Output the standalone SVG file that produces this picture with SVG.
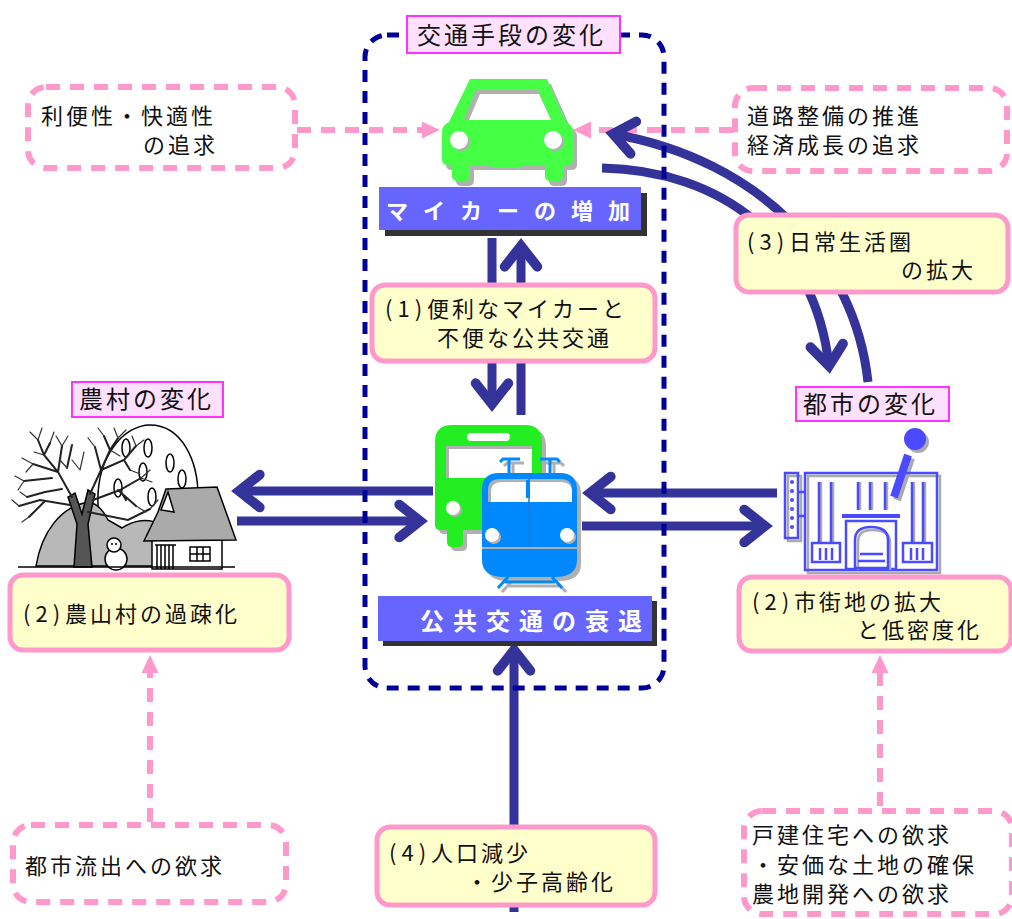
<svg xmlns="http://www.w3.org/2000/svg" width="1012" height="919" viewBox="0 0 1012 919">
  <style>
    text { font-family: "Noto Sans CJK JP", "Noto Sans", sans-serif; fill: #111; }
    .lbl { font-size: 22px; letter-spacing: 3px; }
    .ttl { font-size: 24px; letter-spacing: 3px; }
    .par { letter-spacing: 5px; }
    .bar { font-size: 22px; font-weight: bold; fill: #fff; }
    .note { fill: #ffffcc; stroke: #ff99cc; stroke-width: 5; }
    .want { fill: #fff; stroke: #ff99cc; stroke-width: 6; stroke-dasharray: 14 10; }
    .tag { fill: #ffe0ff; stroke: #ff33ff; stroke-width: 2; }
    .navy { fill: none; stroke: #333399; stroke-width: 9; marker-end: url(#ah); }
    .pink { fill: none; stroke: #ff99cc; stroke-width: 6; stroke-dasharray: 14 10; marker-end: url(#ph); }
    .ink { stroke: #000; stroke-width: 1.5; }
    .br { fill: none; stroke: #222; stroke-width: 2; stroke-linecap: round; }
    .tw { fill: none; stroke: #333; stroke-width: 1.2; stroke-linecap: round; }
    .bl { fill: none; stroke: #4a4aff; stroke-width: 2.5; }
    .sh { fill: none; stroke: #aaa; stroke-width: 2.5; }
  </style>
  <defs>
    <marker id="ah" markerUnits="userSpaceOnUse" markerWidth="48" markerHeight="48" viewBox="0 0 44 44" refX="30" refY="22" orient="auto" overflow="visible">
      <path d="M11,7 L30,22 L11,37" fill="none" stroke="#333399" stroke-width="9" stroke-linecap="round" stroke-linejoin="miter"/>
    </marker>
    <marker id="ph" markerUnits="userSpaceOnUse" markerWidth="20" markerHeight="20" viewBox="0 0 20 20" refX="8" refY="10" orient="auto" overflow="visible">
      <path d="M0,1.5 L18,10 L0,18.5 Z" fill="#ff99cc"/>
    </marker>
  </defs>

  <rect width="1012" height="919" fill="#fff"/>

  <!-- connectors -->
  <g id="connectors">
    <!-- wishes feeding the changes -->
    <path class="pink" d="M297,130 L430,130"/>
    <path class="pink" d="M733,130 L583,130"/>
    <path class="pink" d="M150,822 L150,665"/>
    <path class="pink" d="M880,806 L880,665"/>
    <!-- daily-life sphere loop between car and city -->
    <path class="navy" d="M868,382 C855,260 760,160 613,134"/>
    <path class="navy" d="M602,168 C720,170 815,240 829,366"/>
    <!-- car vs public transport -->
    <path class="navy" d="M492,238 L492,404"/>
    <path class="navy" d="M521,415 L521,246"/>
    <!-- population decline -->
    <path class="navy" d="M514,912 L514,650"/>
    <!-- village side -->
    <path class="navy" d="M433,491 L239,491"/>
    <path class="navy" d="M237,521 L420,521"/>
    <!-- city side -->
    <path class="navy" d="M777,493 L590,493"/>
    <path class="navy" d="M582,526 L765,526"/>
  </g>

  <!-- transport frame -->
  <g id="transport-frame">
    <rect x="365" y="35" width="299" height="653" rx="22" fill="none" stroke="#000099" stroke-width="5" stroke-dasharray="12 9"/>
    <rect class="tag" x="407" y="16" width="213" height="37"/>
    <text class="ttl" x="417" y="44">交通手段の変化</text>
  </g>

  <!-- car -->
  <g id="car">
    <g transform="translate(4,5)" fill="#b0b0b0">
      <path d="M470,79 L547,79 L566,122 Q573,125 573,132 L573,160 Q573,165 567,165 L563,165 L563,176 Q563,181 557,181 L551,181 Q545,181 545,176 L545,165 L470,165 L470,176 Q470,181 464,181 L458,181 Q452,181 452,176 L452,165 L448,165 Q442,165 442,160 L442,132 Q442,125 449,122 Z"/>
    </g>
    <path fill="#44ff44" d="M470,79 L547,79 L566,122 Q573,125 573,132 L573,160 Q573,165 567,165 L563,165 L563,176 Q563,181 557,181 L551,181 Q545,181 545,176 L545,165 L470,165 L470,176 Q470,181 464,181 L458,181 Q452,181 452,176 L452,165 L448,165 Q442,165 442,160 L442,132 Q442,125 449,122 Z"/>
    <rect x="492" y="160" width="30" height="8" fill="#44ff44"/>
    <polygon points="476,90 538,90 551,120 464,120" fill="#b0b0b0"/>
    <polygon points="480,94 539,94 551,120 469,120" fill="#fff"/>
    <circle cx="461" cy="142" r="9" fill="#b0b0b0"/>
    <circle cx="459" cy="140" r="9" fill="#fff"/>
    <circle cx="555" cy="142" r="9" fill="#b0b0b0"/>
    <circle cx="553" cy="140" r="9" fill="#fff"/>
  </g>

  <!-- car increase label -->
  <g id="car-increase">
    <rect x="385" y="193" width="262" height="43" fill="#333"/>
    <rect x="379" y="187" width="262" height="43" fill="#6666ff"/>
    <text class="bar" x="386" y="219" style="letter-spacing:15px">マイカーの増加</text>
  </g>

  <!-- (1) -->
  <g id="note-1">
    <rect class="note" x="372" y="285" width="283" height="76" rx="13"/>
    <text class="lbl" x="385" y="317"><tspan class="par">(1)</tspan>便利なマイカーと</text>
    <text class="lbl" x="437" y="346">不便な公共交通</text>
  </g>

  <!-- bus and train -->
  <g id="public-transport">
    <!-- bus -->
    <path transform="translate(4,4)" fill="#b0b0b0" d="M435,442 Q435,425 452,425 L525,425 Q542,425 542,442 L542,530 L463,530 L463,542 Q463,547 458,547 L452,547 Q447,547 447,542 L447,530 L440,530 Q435,530 435,525 Z"/>
    <path fill="#22ee22" d="M435,442 Q435,425 452,425 L525,425 Q542,425 542,442 L542,530 L463,530 L463,542 Q463,547 458,547 L452,547 Q447,547 447,542 L447,530 L440,530 Q435,530 435,525 Z"/>
    <rect x="467" y="433" width="43" height="8" rx="4" fill="#fff"/>
    <rect x="446" y="446" width="86" height="32" fill="#b0b0b0"/>
    <rect x="449" y="449" width="83" height="29" fill="#fff"/>
    <circle cx="455" cy="510" r="7" fill="#b0b0b0"/>
    <circle cx="453" cy="508" r="7" fill="#fff"/>
    <!-- train -->
    <g transform="translate(4,4)" fill="none" stroke="#b0b0b0" stroke-width="3">
      <path d="M500,462 L503,459 L520,459 M509,459 L509,473 M560,462 L557,459 L540,459 M550,459 L550,473"/>
      <path d="M508,577 L498,588 M552,577 L562,588 M505,582 L555,582"/>
    </g>
    <path transform="translate(4,4)" fill="#b0b0b0" d="M482,490 Q482,473 499,473 L560,473 Q577,473 577,490 L577,560 Q577,577 555,577 L504,577 Q482,577 482,560 Z"/>
    <path fill="#0088ff" d="M482,490 Q482,473 499,473 L560,473 Q577,473 577,490 L577,547 L482,547 Z"/>
    <path fill="#0088ff" d="M482,549 L577,549 L577,560 Q577,577 555,577 L504,577 Q482,577 482,560 Z"/>
    <line x1="482" y1="548" x2="577" y2="548" stroke="#b0b0b0" stroke-width="2"/>
    <path fill="#b0b0b0" d="M488,502 L488,490 Q488,479 500,479 L560,479 Q572,479 572,490 L572,502 Z"/>
    <path fill="#fff" d="M491,502 L491,492 Q491,482 502,482 L560,482 Q572,482 572,492 L572,502 Z"/>
    <line x1="529" y1="473" x2="529" y2="547" stroke="#1a7ae0" stroke-width="1.5"/>
    <rect x="526" y="480" width="4" height="18" fill="#0088ff"/>
    <circle cx="494" cy="537" r="7" fill="#b0b0b0"/>
    <circle cx="492" cy="535" r="7" fill="#fff"/>
    <circle cx="569" cy="537" r="7" fill="#b0b0b0"/>
    <circle cx="567" cy="535" r="7" fill="#fff"/>
    <g fill="none" stroke="#0088ff" stroke-width="3">
      <path d="M500,462 L503,459 L520,459 M509,459 L509,473 M560,462 L557,459 L540,459 M550,459 L550,473"/>
      <path d="M508,577 L498,588 M552,577 L562,588 M505,582 L555,582"/>
    </g>
  </g>

  <!-- public transport decline label -->
  <g id="transit-decline">
    <rect x="383" y="601" width="274" height="45" fill="#333"/>
    <rect x="378" y="596" width="274" height="45" fill="#6666ff"/>
    <text class="bar" x="420" y="630" style="font-size:24px;letter-spacing:9px">公共交通の衰退</text>
  </g>

  <!-- (4) -->
  <g id="note-4">
    <rect class="note" x="377" y="827" width="278" height="78" rx="13"/>
    <text class="lbl" x="389" y="861"><tspan class="par">(4)</tspan>人口減少</text>
    <text class="lbl" x="466" y="890">・少子高齢化</text>
  </g>

  <!-- convenience wish -->
  <g id="wish-convenience">
    <rect class="want" x="28" y="87" width="267" height="81" rx="18"/>
    <text class="lbl" x="41" y="124">利便性・快適性</text>
    <text class="lbl" x="143" y="153">の追求</text>
  </g>

  <!-- road and growth wish -->
  <g id="wish-growth">
    <rect class="want" x="735" y="88" width="272" height="83" rx="18"/>
    <text class="lbl" x="747" y="124">道路整備の推進</text>
    <text class="lbl" x="747" y="153">経済成長の追求</text>
  </g>

  <!-- (3) -->
  <g id="note-3">
    <rect class="note" x="736" y="215" width="272" height="77" rx="13"/>
    <text class="lbl" x="747" y="250"><tspan class="par">(3)</tspan>日常生活圏</text>
    <text class="lbl" x="901" y="278">の拡大</text>
  </g>

  <!-- rural change -->
  <g id="rural">
    <rect class="tag" x="72" y="382" width="151" height="35"/>
    <text class="ttl" x="79" y="408">農村の変化</text>
    <!-- snowy hill -->
    <path class="ink" fill="#fff" d="M98,560 L98,505 C96,455 125,425 150,425 C180,425 200,458 198,505 L198,560 Z"/>
    <g class="ink" fill="#fff">
      <ellipse cx="126" cy="448" rx="4" ry="9"/>
      <ellipse cx="148" cy="448" rx="4" ry="9"/>
      <ellipse cx="170" cy="463" rx="4" ry="9"/>
      <ellipse cx="143" cy="472" rx="4" ry="9"/>
      <ellipse cx="118" cy="488" rx="4" ry="9"/>
      <ellipse cx="182" cy="479" rx="4" ry="9"/>
      <ellipse cx="152" cy="497" rx="4" ry="9"/>
    </g>
    <!-- grey slope -->
    <path class="ink" fill="#b8b8b8" d="M36,566 C42,530 62,508 84,503 C96,500 103,510 108,520 L122,528 C134,520 148,518 160,524 L178,518 L178,566 Z"/>
    <!-- bare tree -->
    <path class="ink" fill="#555" d="M74,567 L77,524 L68,497 L75,493 L82,514 L88,490 L95,494 L88,524 L92,567 Z"/>
    <path class="br" d="M72,497 L58,472 L44,455 L38,440 M58,472 L33,464 M52,478 L24,481 M70,505 L40,500 L19,506 M45,501 L29,517 M62,489 L45,492 L27,497 M58,472 L62,446 M44,455 L50,443"/>
    <path class="br" d="M90,494 L101,470 L110,450 L118,438 M101,470 L124,460 L136,446 M93,500 L120,490 L141,478 M118,490 L136,506 M101,470 L95,447 M88,512 L128,520 L150,509 M110,450 L104,436 M124,460 L130,470 M72,445 L67,468 M120,490 L126,500"/>
    <path class="tw" d="M38,440 L30,432 M38,440 L42,428 M33,464 L22,458 M33,464 L26,472 M24,481 L15,476 M24,481 L18,490 M19,506 L12,500 M29,517 L22,522 M27,497 L20,492 M62,446 L56,436 M62,446 L68,436 M50,443 L54,432 M118,438 L114,428 M118,438 L126,430 M136,446 L132,436 M136,446 L144,440 M141,478 L150,470 M141,478 L152,482 M136,506 L146,512 M150,509 L158,500 M104,436 L98,428 M95,447 L88,438 M67,468 L60,460 M130,470 L140,474 M110,450 L120,456 M44,455 L34,452 M80,470 L84,452 M80,470 L72,460"/>
    <!-- snowman -->
    <circle class="ink" cx="116" cy="559" r="11" fill="#fff"/>
    <circle class="ink" cx="114" cy="545" r="7" fill="#fff"/>
    <circle cx="112" cy="544" r="1" fill="#000"/>
    <circle cx="116" cy="544" r="1" fill="#000"/>
    <!-- house -->
    <rect class="ink" x="152" y="538" width="70" height="31" fill="#fff"/>
    <path class="ink" fill="none" d="M157,545 L157,569 M161,545 L161,569 M165,545 L165,569 M169,545 L169,569 M173,545 L173,569 M155,545 L176,545"/>
    <rect class="ink" x="190" y="547" width="20" height="14" fill="#fff"/>
    <path class="ink" fill="none" d="M197,547 L197,561 M203,547 L203,561 M190,554 L210,554"/>
    <path class="ink" fill="#aaa" d="M166,489 L217,487 L226,512 L236,540 L144,541 L158,512 Z"/>
    <polygon class="ink" fill="#fff" points="161,510 168,492 174,512"/>
    <line class="ink" x1="18" y1="567" x2="235" y2="567"/>
  </g>

  <!-- (2) rural -->
  <g id="note-2-rural">
    <rect class="note" x="10" y="575" width="279" height="75" rx="13"/>
    <text class="lbl" x="23" y="622"><tspan class="par">(2)</tspan>農山村の過疎化</text>
  </g>

  <!-- rural wish -->
  <g id="wish-urban-outflow">
    <rect class="want" x="13" y="825" width="273" height="77" rx="18"/>
    <text class="lbl" x="25" y="874">都市流出への欲求</text>
  </g>

  <!-- city change -->
  <g id="city">
    <rect class="tag" x="796" y="387" width="153" height="34"/>
    <text class="ttl" x="803" y="413">都市の変化</text>
    <!-- shadow -->
    <g transform="translate(3,3)">
      <circle cx="915" cy="439" r="11" fill="#aaa"/>
      <line x1="908" y1="455" x2="894" y2="497" stroke="#aaa" stroke-width="8"/>
      <rect class="sh" x="805" y="473" width="132" height="97"/>
      <rect class="sh" x="785" y="473" width="13" height="65"/>
    </g>
    <circle cx="915" cy="439" r="11" fill="#4a4aff"/>
    <line x1="908" y1="455" x2="894" y2="497" stroke="#4a4aff" stroke-width="8"/>
    <rect class="bl" x="805" y="473" width="132" height="97" stroke-width="3"/>
    <rect class="bl" x="785" y="473" width="13" height="65" stroke-width="2"/>
    <g fill="#4a4aff">
      <circle cx="792" cy="482" r="2"/>
      <circle cx="792" cy="491" r="2"/>
      <circle cx="792" cy="500" r="2"/>
      <circle cx="792" cy="509" r="2"/>
      <circle cx="792" cy="518" r="2"/>
      <circle cx="792" cy="527" r="2"/>
    </g>
    <path class="bl" stroke-width="2" d="M798,492 L805,492 M798,516 L805,516"/>
    <path class="sh" stroke-width="1.5" d="M821,482 L821,543 M833,482 L833,543 M860,482 L860,510 M872,482 L872,510 M887,482 L887,510 M914,482 L914,543 M925,482 L925,543"/>
    <path class="bl" stroke-width="1.5" d="M819,482 L819,543 M831,482 L831,543 M858,482 L858,510 M870,482 L870,510 M885,482 L885,510 M912,482 L912,543 M923,482 L923,543"/>
    <rect x="842" y="514" width="58" height="4" fill="#4a4aff"/>
    <rect class="bl" x="846" y="521" width="50" height="48"/>
    <path class="sh" d="M858,570 L858,542 Q858,530 872,530 Q890,530 890,542 L890,570"/>
    <path class="bl" d="M855,570 L855,540 Q855,527 871,527 Q888,527 888,540 L888,570"/>
    <path class="bl" stroke-width="3" d="M860,554 L883,554 M858,561 L885,561 M856,568 L887,568"/>
    <rect class="bl" stroke-width="1.5" x="812" y="543" width="28" height="19"/>
    <rect class="bl" stroke-width="1.5" x="903" y="543" width="29" height="19"/>
    <path class="bl" stroke-width="1.5" d="M820,548 L820,560 M826,548 L826,560 M832,548 L832,560 M911,548 L911,560 M917,548 L917,560 M923,548 L923,560"/>
  </g>

  <!-- (2) city -->
  <g id="note-2-city">
    <rect class="note" x="739" y="577" width="272" height="74" rx="13"/>
    <text class="lbl" x="752" y="610"><tspan class="par">(2)</tspan>市街地の拡大</text>
    <text class="lbl" x="857" y="638">と低密度化</text>
  </g>

  <!-- city wish -->
  <g id="wish-housing">
    <rect class="want" x="744" y="811" width="268" height="103" rx="18"/>
    <text class="lbl" x="752" y="843">戸建住宅への欲求</text>
    <text class="lbl" x="752" y="873">・安価な土地の確保</text>
    <text class="lbl" x="752" y="902">農地開発への欲求</text>
  </g>
</svg>
